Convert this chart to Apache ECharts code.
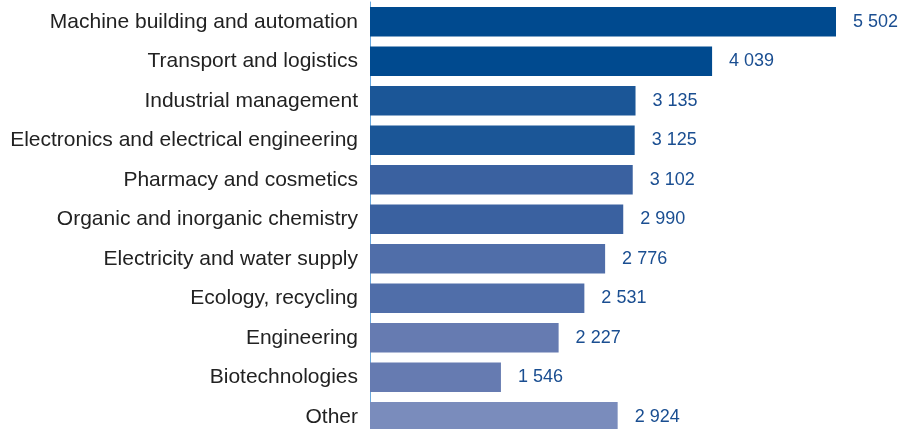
<!DOCTYPE html>
<html>
<head>
<meta charset="utf-8">
<script src="https://cdn.jsdelivr.net/npm/echarts@6/dist/echarts.min.js"></script>
<style>
  html, body { margin: 0; padding: 0; background: #fff; }
  #chart1 { width: 907px; height: 429px; }
</style>
</head>
<body>
<div id="chart1"></div>
<script>
// categories, top to bottom
var categories = [
    'Machine building and automation',
    'Transport and logistics',
    'Industrial management',
    'Electronics and electrical engineering',
    'Pharmacy and cosmetics',
    'Organic and inorganic chemistry',
    'Electricity and water supply',
    'Ecology, recycling',
    'Engineering',
    'Biotechnologies',
    'Other'
];
var values = [5502, 4039, 3135, 3125, 3102, 2990, 2776, 2531, 2227, 1546, 2924];
var barColors = [
    '#004a8f', '#004a8f', '#1b5697', '#1b5697', '#3a61a0',
    '#3a61a0', '#506ea9', '#506ea9', '#667bb1', '#667bb1', '#7a8cbc'
];

var myChart = echarts.init(document.getElementById('chart1'));
myChart.setOption({
    animation: false,
    grid: {
        left: 370,
        right: 71,
        top: 2,
        height: 434.5,
        containLabel: false,
        outerBoundsMode: 'none'
    },
    xAxis: {
        type: 'value',
        min: 0,
        max: 5502,
        show: false
    },
    yAxis: {
        type: 'category',
        inverse: true,
        data: categories,
        axisTick: { show: false },
        axisLine: { show: true, lineStyle: { color: '#6aa8dc', width: 1 } },
        axisLabel: {
            margin: 12,
            fontFamily: 'Liberation Sans',
            fontSize: 21,
            color: '#222'
        }
    },
    series: [{
        type: 'bar',
        barCategoryGap: '25%',
        data: values.map(function (v, i) {
            return { value: v, itemStyle: { color: barColors[i] } };
        }),
        label: {
            show: true,
            position: 'right',
            distance: 17,
            fontFamily: 'Liberation Sans',
            fontSize: 18,
            color: '#1a4e91',
            formatter: function (p) {
                return String(p.value).replace(/\B(?=(\d{3})+(?!\d))/g, ' ');
            }
        }
    }]
});
</script>
</body>
</html>
